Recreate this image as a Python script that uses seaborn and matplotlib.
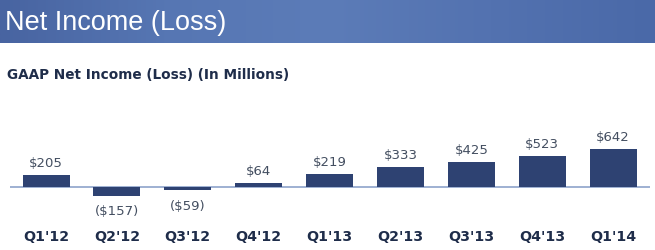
import numpy as np
import pandas as pd
import matplotlib
matplotlib.use("Agg")
import matplotlib.pyplot as plt
import seaborn as sns
from matplotlib.colors import LinearSegmentedColormap

quarters = ["Q1'12", "Q2'12", "Q3'12", "Q4'12", "Q1'13", "Q2'13", "Q3'13", "Q4'13", "Q1'14"]
net_income = [205, -157, -59, 64, 219, 333, 425, 523, 642]
value_labels = ["$205", "($157)", "($59)", "$64", "$219", "$333", "$425", "$523", "$642"]
title = "Net Income (Loss)"
subtitle = "GAAP Net Income (Loss) (In Millions)"

sns.set_theme(style="white")
plt.rcParams['font.family'] = ['DejaVu Sans']

W, H = 655, 250
fig = plt.figure(figsize=(W / 100, H / 100), dpi=100)
fig.patch.set_facecolor("white")

# header band with gradient
hax = fig.add_axes([0, 1 - 43 / H, 1, 43 / H])
cmap = LinearSegmentedColormap.from_list(
    "hdr", ["#4864a1", "#5676b3", "#5c7cb8", "#5372b0", "#4a69a8"])
hax.imshow(np.linspace(0, 1, 256)[None, :], aspect="auto", cmap=cmap,
           extent=[0, 1, 0, 1])
hax.set_xlim(0, 1)
hax.set_ylim(0, 1)
hax.axis("off")
hax.text(5 / W, 0.47, title, color="white", fontsize=19.5,
         family=["Liberation Sans", "DejaVu Sans"], va="center", ha="left")

fig.text(7 / W, 1 - 75 / H, subtitle, color="#1f2d4a", fontsize=9.8,
         fontweight="bold", va="center", ha="left")

# chart axes: x from pixel 10 to 650; baseline at y=187
scale = 0.0592  # px per million
ax_top, ax_bot = 95, 200
ax = fig.add_axes([10 / W, 1 - ax_bot / H, 640 / W, (ax_bot - ax_top) / H])
c0, sp = 46, 70.9
ax.set_xlim((10 - c0) / sp, (650 - c0) / sp)
ax.set_ylim(-(ax_bot - 187) / scale, (187 - ax_top) / scale)

df = pd.DataFrame({"quarter": quarters, "value": net_income})
df["pos"] = np.arange(len(df))
sns.barplot(data=df, x="pos", y="value", color="#2e4272", saturation=1,
            width=47 / sp, ax=ax, native_scale=True, edgecolor="none")
ax.axhline(0, color="#8ea3cb", lw=1.2, zorder=0)

for p, v, lab in zip(df["pos"], net_income, value_labels):
    if v >= 0:
        ax.annotate(lab, (p, v), xytext=(0, 3.5), textcoords="offset points",
                    ha="center", va="bottom", fontsize=9.5, color="#434e60")
    else:
        ax.annotate(lab, (p, v), xytext=(0, -6.5), textcoords="offset points",
                    ha="center", va="top", fontsize=9.5, color="#434e60")

for p, q in zip(df["pos"], quarters):
    ax.annotate(q, (p, 0), xytext=(0, -(237 - 187) * 0.72),
                textcoords="offset points", ha="center", va="center",
                fontsize=10.2, fontweight="bold", color="#1f2d4a",
                annotation_clip=False)

ax.set_xticks([])
ax.set_yticks([])
ax.set_xlabel("")
ax.set_ylabel("")
for s in ax.spines.values():
    s.set_visible(False)
ax.patch.set_alpha(0)

fig.savefig("out.png", dpi=100)
